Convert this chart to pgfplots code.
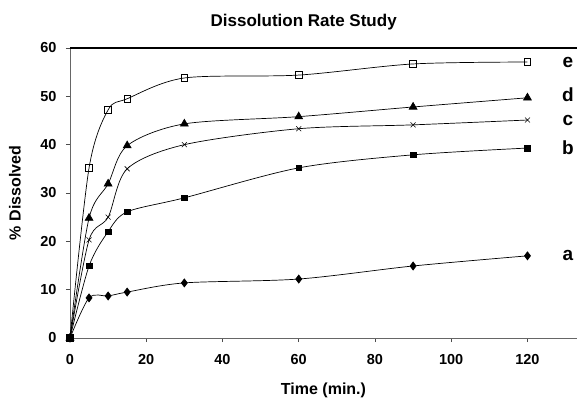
\documentclass[border=0pt]{standalone}
\usepackage{fontspec}
\setmainfont{Liberation Sans}
\usepackage{pgfplots}
\usepackage{pgfplotstable}
\pgfplotsset{compat=1.18}

% dissolved percentage over time, five formulations
\pgfplotstableread{
t    a     b     c     d     e
0    0     0     0     0     0
5    8.3   14.9  20.3  24.8  35.2
10   8.7   22.0  25.0  31.9  47.2
15   9.5   26.1  35.0  39.8  49.5
30   11.4  29.0  40.0  44.3  53.8
60   12.2  35.2  43.3  45.8  54.4
90   14.9  37.9  44.1  47.8  56.7
120  17.0  39.3  45.1  49.7  57.1
}\dissolution

\begin{document}
\begin{tikzpicture}
\useasboundingbox (-70pt,-71pt) rectangle (507pt,338pt);
\begin{axis}[
    scale only axis,
    width=507pt, height=290pt,
    xmin=0, xmax=133, ymin=0, ymax=60,
    axis x line*=bottom, axis y line*=left,
    axis line style={gray!80!black, line width=0.8pt},
    xtick={0,20,...,120}, ytick={0,10,...,60},
    tick align=outside, major tick length=4pt,
    tick style={gray!60!black, line width=0.7pt},
    ticklabel style={font=\fontsize{14.5}{16}\selectfont\bfseries},
    /pgf/number format/assume math mode=true,
    xticklabel style={yshift=-9pt},
    yticklabel style={xshift=-6pt},
    xlabel={Time (min.)},
    ylabel={\% Dissolved},
    label style={font=\fontsize{16}{18}\selectfont\bfseries},
    xlabel style={at={(axis description cs:0.5,0)}, anchor=center, yshift=-52pt},
    ylabel style={at={(axis description cs:-0.1085,0.5)}, anchor=center},
    clip=false,
    every axis plot/.append style={black, line width=0.7pt, smooth, tension=0.5},
]
\addplot[mark=diamond*, mark size=4pt] table[x=t, y=a] {\dissolution};
\addplot[mark=square*, mark size=2.8pt] table[x=t, y=b] {\dissolution};
\addplot[mark=x, mark size=3.5pt, mark options={line width=0.6pt}] table[x=t, y=c] {\dissolution};
\addplot[mark=triangle*, mark size=4.5pt] table[x=t, y=d] {\dissolution};
\addplot[mark=square, mark size=3.3pt, mark options={fill=white}] table[x=t, y=e] {\dissolution};

\draw[line width=1.6pt] (rel axis cs:0,1) -- (rel axis cs:1,1);

\node[font=\fontsize{17}{19}\selectfont\bfseries] at (axis cs:61.3,60) [yshift=26pt] {Dissolution Rate Study};

\begin{scope}[every node/.style={font=\fontsize{19}{21}\selectfont\bfseries}]
\node at (axis cs:130.6,57.1) {e};
\node at (axis cs:130.6,50.3) {d};
\node at (axis cs:130.6,45.1) {c};
\node at (axis cs:130.6,39.3) {b};
\node at (axis cs:130.6,17.0) {a};
\end{scope}
\end{axis}
\end{tikzpicture}
\end{document}
